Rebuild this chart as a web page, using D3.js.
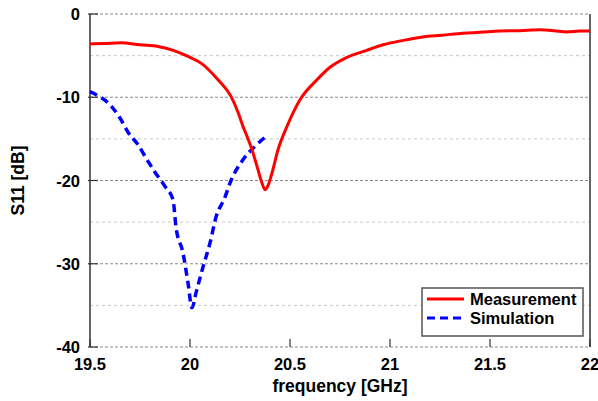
<!DOCTYPE html>
<html>
<head>
<meta charset="utf-8">
<script src="https://cdn.jsdelivr.net/npm/d3@7"></script>
<style>
  body { margin: 0; background: #fff; }
  text { font-family: Arial, "Liberation Sans", sans-serif; font-weight: bold; fill: #000; }
</style>
</head>
<body>
<div id="chart"></div>
<script>
// Measured S11 (GHz, dB)
const measFreq = [19.5, 19.57, 19.655, 19.75, 19.84, 19.92, 19.99, 20.055, 20.14, 20.205, 20.24, 20.265, 20.29, 20.31, 20.34, 20.36, 20.375, 20.39, 20.41, 20.44, 20.485, 20.55, 20.635, 20.7, 20.785, 20.88, 20.965, 21.06, 21.165, 21.26, 21.365, 21.45, 21.55, 21.65, 21.75, 21.82, 21.885, 21.95, 22.0];
const measS11 = [-3.6, -3.55, -3.45, -3.7, -3.9, -4.4, -5.1, -5.9, -7.9, -9.9, -11.8, -13.5, -15.0, -16.3, -18.7, -20.3, -21.1, -20.6, -19.1, -16.3, -13.5, -10.3, -7.9, -6.4, -5.2, -4.4, -3.7, -3.2, -2.75, -2.55, -2.3, -2.2, -2.05, -2.0, -1.9, -2.0, -2.15, -2.05, -2.05];

// Simulated S11 (GHz, dB)
const simFreq = [19.5, 19.515, 19.6, 19.65, 19.69, 19.74, 19.78, 19.825, 19.875, 19.915, 19.93, 19.965, 19.99, 20.01, 20.03, 20.065, 20.1, 20.13, 20.175, 20.2, 20.265, 20.325, 20.39];
const simS11 = [-9.3, -9.5, -10.9, -12.5, -14.2, -15.7, -17.3, -19.0, -20.7, -22.3, -25.6, -28.7, -32.3, -35.3, -33.5, -30.4, -27.5, -24.4, -22.0, -20.3, -17.5, -15.9, -14.5];

const xTicks = [19.5, 20, 20.5, 21, 21.5, 22];
const xTickLabels = ['19.5', '20', '20.5', '21', '21.5', '22'];
const yMajor = [0, -10, -20, -30, -40];
const yMinor = [-5, -15, -25, -35];

const width = 598, height = 401;
const margin = { left: 90, right: 8, top: 14, bottom: 54 };

const svg = d3.select('#chart').append('svg')
    .attr('width', width)
    .attr('height', height);

const x = d3.scaleLinear().domain([19.5, 22]).range([margin.left, width - margin.right]);
const y = d3.scaleLinear().domain([-40, 0]).range([height - margin.bottom, margin.top]);

// grid lines
svg.append('g').selectAll('line')
    .data(yMinor)
    .join('line')
    .attr('x1', x(19.5)).attr('x2', x(22))
    .attr('y1', d => y(d)).attr('y2', d => y(d))
    .attr('stroke', '#c8c8c8')
    .attr('stroke-width', 1)
    .attr('stroke-dasharray', '3,3');

svg.append('g').selectAll('line')
    .data(yMajor)
    .join('line')
    .attr('x1', x(19.5)).attr('x2', x(22))
    .attr('y1', d => y(d)).attr('y2', d => y(d))
    .attr('stroke', '#8a8a8a')
    .attr('stroke-width', 1)
    .attr('stroke-dasharray', '3,2');

// left and right frame
svg.append('line')
    .attr('x1', x(19.5)).attr('x2', x(19.5))
    .attr('y1', y(0)).attr('y2', y(-40))
    .attr('stroke', '#333').attr('stroke-width', 1.5);
svg.append('line')
    .attr('x1', x(22)).attr('x2', x(22))
    .attr('y1', y(0)).attr('y2', y(-40))
    .attr('stroke', '#333').attr('stroke-width', 1.5);

// x ticks
svg.append('g').selectAll('line')
    .data(xTicks)
    .join('line')
    .attr('x1', d => x(d)).attr('x2', d => x(d))
    .attr('y1', y(-40)).attr('y2', y(-40) - 8)
    .attr('stroke', '#333').attr('stroke-width', 1.2);

svg.append('g').selectAll('text')
    .data(xTicks)
    .join('text')
    .attr('x', d => x(d))
    .attr('y', y(-40) + 23)
    .attr('text-anchor', 'middle')
    .attr('font-size', 16.5)
    .text((d, i) => xTickLabels[i]);

// y ticks
svg.append('g').selectAll('line')
    .data(yMajor)
    .join('line')
    .attr('x1', x(19.5) - 2).attr('x2', x(19.5) + 8)
    .attr('y1', d => y(d)).attr('y2', d => y(d))
    .attr('stroke', '#333').attr('stroke-width', 1.2);

svg.append('g').selectAll('text')
    .data(yMajor)
    .join('text')
    .attr('x', x(19.5) - 10)
    .attr('y', d => y(d) + 6)
    .attr('text-anchor', 'end')
    .attr('font-size', 16.5)
    .text(d => d);

// axis titles
svg.append('text')
    .attr('x', x(20.75))
    .attr('y', 392)
    .attr('text-anchor', 'middle')
    .attr('font-size', 17.5)
    .text('frequency [GHz]');

svg.append('text')
    .attr('transform', `translate(24, ${y(-20)}) rotate(-90)`)
    .attr('text-anchor', 'middle')
    .attr('font-size', 17.5)
    .text('S11 [dB]');

// curves
const line = d3.line()
    .x(d => x(d[0]))
    .y(d => y(d[1]))
    .curve(d3.curveMonotoneX);

svg.append('path')
    .datum(simFreq.map((f, i) => [f, simS11[i]]))
    .attr('d', line)
    .attr('fill', 'none')
    .attr('stroke', '#0000ff')
    .attr('stroke-width', 3.5)
    .attr('stroke-dasharray', '8,5');

svg.append('path')
    .datum(measFreq.map((f, i) => [f, measS11[i]]))
    .attr('d', line)
    .attr('fill', 'none')
    .attr('stroke', '#ff0000')
    .attr('stroke-width', 3);

// legend
const legend = svg.append('g').attr('transform', 'translate(422, 288)');
legend.append('rect')
    .attr('width', 161).attr('height', 48)
    .attr('fill', '#fff')
    .attr('stroke', '#555').attr('stroke-width', 1.5);

const legendItems = [
    { label: 'Measurement', color: '#ff0000', dash: null },
    { label: 'Simulation', color: '#0000ff', dash: '8,5' }
];

legendItems.forEach((item, i) => {
    const yy = 11 + i * 19;
    legend.append('line')
        .attr('x1', 5).attr('x2', 42)
        .attr('y1', yy).attr('y2', yy)
        .attr('stroke', item.color)
        .attr('stroke-width', 3)
        .attr('stroke-dasharray', item.dash);
    legend.append('text')
        .attr('x', 48)
        .attr('y', yy + 6)
        .attr('font-size', 16.5)
        .text(item.label);
});
</script>
</body>
</html>
